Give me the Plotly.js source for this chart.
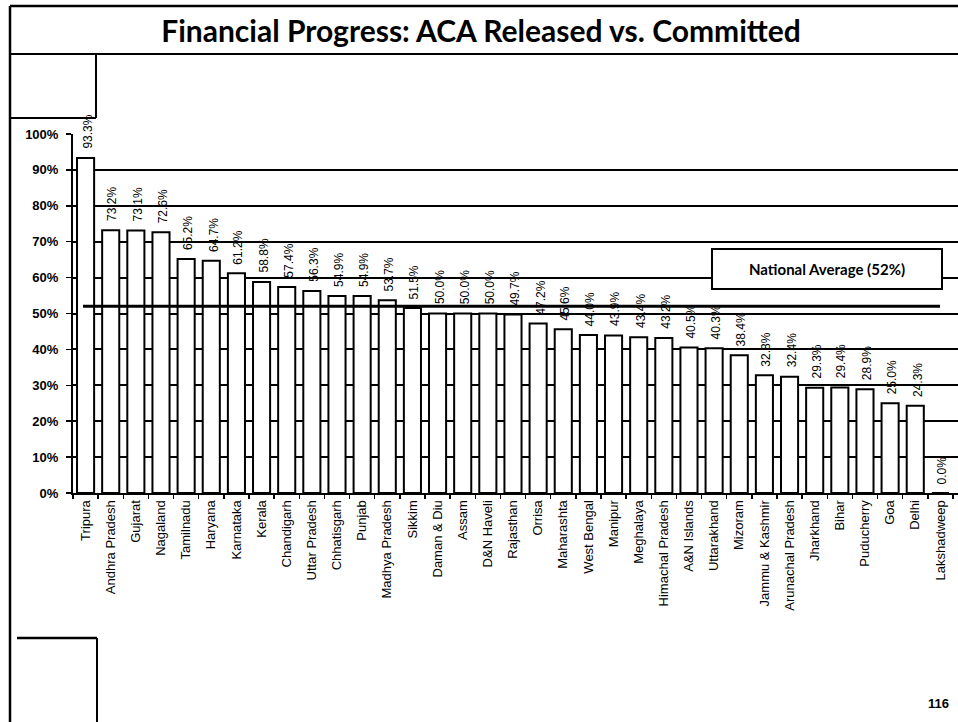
<!DOCTYPE html>
<html>
<head>
<meta charset="utf-8">
<script src="https://cdn.plot.ly/plotly-3.0.1.min.js"></script>
<style>
html,body{margin:0;padding:0;background:#fff;}
#chart{width:958px;height:722px;}
</style>
</head>
<body>
<div id="chart"></div>
<script>
const states = ["Tripura","Andhra Pradesh","Gujarat","Nagaland","Tamilnadu","Haryana","Karnataka","Kerala","Chandigarh","Uttar Pradesh","Chhatisgarh","Punjab","Madhya Pradesh","Sikkim","Daman & Diu","Assam","D&N Haveli","Rajasthan","Orrisa","Maharashta","West Bengal","Manipur","Meghalaya","Himachal Pradesh","A&N Islands","Uttarakhand","Mizoram","Jammu & Kashmir","Arunachal Pradesh","Jharkhand","Bihar","Puducherry","Goa","Delhi","Lakshadweep"];
const releasedPct = [93.3,73.2,73.1,72.6,65.2,64.7,61.2,58.8,57.4,56.3,54.9,54.9,53.7,51.5,50.0,50.0,50.0,49.7,47.2,45.6,44.0,43.9,43.4,43.2,40.5,40.3,38.4,32.8,32.4,29.3,29.4,28.9,25.0,24.3,0.0];
const nationalAverage = 52;
const yTicks = [0,10,20,30,40,50,60,70,80,90,100];

const trace = {
  type: 'bar',
  x: states,
  y: releasedPct,
  marker: {color: '#ffffff', line: {color: '#000000', width: 2}},
  hoverinfo: 'x+y'
};

const valueLabels = states.map((s, i) => ({
  xref: 'x', yref: 'y', x: s, y: releasedPct[i],
  text: releasedPct[i].toFixed(1) + '%',
  textangle: -90, showarrow: false,
  xanchor: 'center', yanchor: 'bottom', yshift: 7, xshift: 2,
  font: {family: 'Liberation Sans, Arial, sans-serif', size: 12, color: '#000'}
}));

const layout = {
  width: 958, height: 722,
  margin: {l: 73, r: 0, t: 134, b: 229},
  paper_bgcolor: '#fff', plot_bgcolor: '#fff',
  showlegend: false,
  bargap: 0.32,
  title: {
    text: 'Financial Progress: ACA Released vs. Committed',
    font: {family: 'Lato, Open Sans, sans-serif', size: 30, weight: 'bold', color: '#000'},
    x: 481/958, xref: 'container', xanchor: 'center',
    y: 1 - 31/722, yref: 'container', yanchor: 'middle'
  },
  xaxis: {
    type: 'category',
    range: [-0.5, 34.7],
    tickangle: -90,
    tickson: 'boundaries',
    ticks: 'outside', ticklen: 4, tickcolor: '#000', tickwidth: 1.5,
    showline: true, linecolor: '#000', linewidth: 2,
    showgrid: false, zeroline: false,
    tickfont: {family: 'Liberation Sans, Arial, sans-serif', size: 13, color: '#000'}
  },
  yaxis: {
    range: [0, 100],
    tickvals: yTicks,
    ticktext: yTicks.map(v => v + '%'),
    ticks: 'outside', ticklen: 5, tickcolor: '#000', tickwidth: 1.5,
    ticklabelstandoff: 5,
    showline: true, linecolor: '#000', linewidth: 2,
    showgrid: true, gridcolor: '#000', gridwidth: 2,
    zeroline: false,
    tickfont: {family: 'Liberation Sans, Arial, sans-serif', size: 13, weight: 'bold', color: '#000'}
  },
  shapes: [
    {type: 'line', xref: 'paper', yref: 'y', x0: (83-73)/885, x1: (940-73)/885, y0: nationalAverage, y1: nationalAverage, line: {color: '#000', width: 3}, layer: 'above'},
    {type: 'rect', xref: 'paper', yref: 'paper', x0: (712-73)/885, x1: (942-73)/885, y0: (493-289)/359, y1: (493-249)/359, fillcolor: '#fff', line: {color: '#000', width: 2}, layer: 'above'},
    {type: 'line', xref: 'paper', yref: 'paper', x0: (10-73)/885, x1: (10-73)/885, y0: (493-722)/359, y1: (493-6)/359, line: {color: '#000', width: 2.5}},
    {type: 'line', xref: 'paper', yref: 'paper', x0: (10-73)/885, x1: 1, y0: (493-6)/359, y1: (493-6)/359, line: {color: '#000', width: 2.5}},
    {type: 'line', xref: 'paper', yref: 'paper', x0: (10-73)/885, x1: 1, y0: (493-54)/359, y1: (493-54)/359, line: {color: '#000', width: 2}},
    {type: 'line', xref: 'paper', yref: 'paper', x0: (96-73)/885, x1: (96-73)/885, y0: (493-54)/359, y1: (493-118)/359, line: {color: '#000', width: 2}},
    {type: 'line', xref: 'paper', yref: 'paper', x0: (10-73)/885, x1: (96-73)/885, y0: (493-118)/359, y1: (493-118)/359, line: {color: '#000', width: 2}},
    {type: 'line', xref: 'paper', yref: 'paper', x0: (17-73)/885, x1: (97-73)/885, y0: (493-638)/359, y1: (493-638)/359, line: {color: '#000', width: 2.5}},
    {type: 'line', xref: 'paper', yref: 'paper', x0: (97-73)/885, x1: (97-73)/885, y0: (493-638)/359, y1: (493-722)/359, line: {color: '#000', width: 2}}
  ],
  annotations: valueLabels.concat([
    {xref: 'paper', yref: 'paper', x: (827-73)/885, y: (493-269)/359, xanchor: 'center', yanchor: 'middle',
     text: 'National Average (52%)', showarrow: false,
     font: {family: 'Lato, Open Sans, sans-serif', size: 15, weight: 'bold', color: '#000'}},
    {xref: 'paper', yref: 'paper', x: (938-73)/885, y: (493-703)/359, xanchor: 'center', yanchor: 'middle',
     text: '116', showarrow: false,
     font: {family: 'Liberation Sans Narrow, Liberation Sans, Arial, sans-serif', size: 13, weight: 'bold', color: '#000'}}
  ])
};

Plotly.newPlot('chart', [trace], layout, {displayModeBar: false, staticPlot: true});
</script>
</body>
</html>
